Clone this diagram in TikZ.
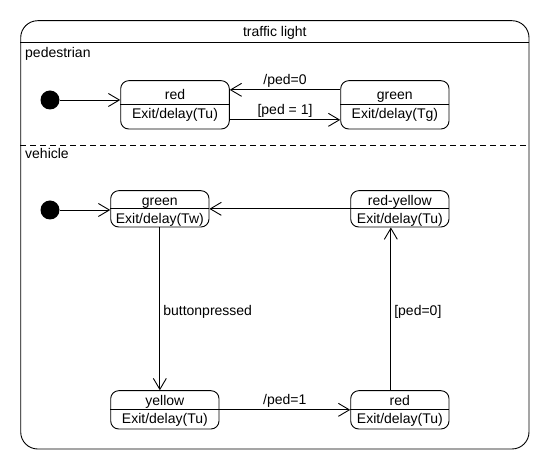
\documentclass[tikz,border=0pt]{standalone}
\usepackage{fontspec}
\setmainfont{Liberation Sans}
\usetikzlibrary{arrows.meta,positioning,calc}

\begin{document}
\begin{tikzpicture}[x=1pt, y=-1pt,
  region/.style={draw, line width=0.9pt, rounded corners=17pt, minimum width=508.3pt, minimum height=428.3pt, inner sep=0pt},
  state/.style={draw, line width=0.9pt, rounded corners=8pt, inner sep=0pt},
  txt/.style={font=\fontsize{14}{16}\selectfont, inner sep=0pt, anchor=base},
  lbl/.style={font=\fontsize{14}{16}\selectfont, inner sep=2pt},
  initial/.style={circle, fill=black, minimum size=19pt, inner sep=0pt},
  arrow/.style={-{Straight Barb[length=11pt, width=13pt]}, line width=0.9pt}
]
\useasboundingbox (0,0) rectangle (550,470);
% outer composite state with title bar and the dashed split between the two regions
\node[region] (tl) at (274.85,234.85) {};
\node[txt] (tl-title) at ($(tl.north)+(0,16.5)$) {traffic light};
\draw[line width=0.9pt] ([yshift=-22.3pt]tl.north west) -- ([yshift=-22.3pt]tl.north east);
\draw[line width=0.9pt, dash pattern=on 6pt off 4pt] (tl.west |- 0,145) -- (tl.east |- 0,145);
\node[txt, anchor=base west] (ped) at (25,58) {pedestrian};
\node[txt, anchor=base west] (veh) at (25,159) {vehicle};
% pedestrian region: two states, each with a name part and an exit part
\node[state, minimum width=108.6pt, minimum height=48.3pt] (pr) at (175,104.85) {};
\draw[line width=0.9pt] (pr.west) -- (pr.east);
\node[txt] (pr-name) at ($(pr.center)+(0,-5.5)$) {red};
\node[txt] (pr-exit) at ($(pr.center)+(0,13.5)$) {Exit/delay(Tu)};
\node[state, minimum width=108.3pt, minimum height=48.3pt] (pg) at (394.85,104.85) {};
\draw[line width=0.9pt] (pg.west) -- (pg.east);
\node[txt] (pg-name) at ($(pg.center)+(0,-5.5)$) {green};
\node[txt] (pg-exit) at ($(pg.center)+(0,13.5)$) {Exit/delay(Tg)};
\node[initial] (pdot) at (50,100) {};
% vehicle region: four states round a loop
\node[state, minimum width=98.3pt, minimum height=36.3pt] (vg) at (159.85,208.85) {};
\draw[line width=0.9pt] (vg.west) -- (vg.east);
\node[txt] (vg-name) at ($(vg.center)+(0,-3.5)$) {green};
\node[txt] (vg-exit) at ($(vg.center)+(0,14.5)$) {Exit/delay(Tw)};
\node[state, minimum width=98.3pt, minimum height=36.3pt] (vry) at (399.85,208.85) {};
\draw[line width=0.9pt] (vry.west) -- (vry.east);
\node[txt] (vry-name) at ($(vry.center)+(0,-3.5)$) {red-yellow};
\node[txt] (vry-exit) at ($(vry.center)+(0,14.5)$) {Exit/delay(Tu)};
\node[state, minimum width=108.3pt, minimum height=38.3pt] (vy) at (164.85,409.85) {};
\draw[line width=0.9pt] (vy.west) -- (vy.east);
\node[txt] (vy-name) at ($(vy.center)+(0,-4.5)$) {yellow};
\node[txt] (vy-exit) at ($(vy.center)+(0,14)$) {Exit/delay(Tu)};
\node[state, minimum width=98.3pt, minimum height=38.3pt] (vr) at (399.85,409.85) {};
\draw[line width=0.9pt] (vr.west) -- (vr.east);
\node[txt] (vr-name) at ($(vr.center)+(0,-4.5)$) {red};
\node[txt] (vr-exit) at ($(vr.center)+(0,14)$) {Exit/delay(Tu)};
\node[initial] (vdot) at (50,210) {};
% transitions
\draw[arrow] (pdot) -- (pdot -| pr.west);
\draw[arrow] ([yshift=15pt]pg.west) -- node[lbl, above]{/ped=0} ([yshift=15pt]pr.east);
\draw[arrow] ([yshift=-15pt]pr.east) -- node[lbl, above]{[ped = 1]} ([yshift=-15pt]pg.west);
\draw[arrow] (vdot) -- (vdot -| vg.west);
\draw[arrow] (vry.west) -- (vg.east);
\draw[arrow] (vg.south) -- node[lbl, right=1pt, pos=0.52]{buttonpressed} (vg.south |- vy.north);
\draw[arrow] (vy.east) -- node[lbl, above]{/ped=1} (vr.west);
\draw[arrow] ([xshift=-9pt]vr.north) -- node[lbl, right=1pt, pos=0.48]{[ped=0]} ([xshift=-9pt]vr.north |- vry.south);
\end{tikzpicture}
\end{document}
